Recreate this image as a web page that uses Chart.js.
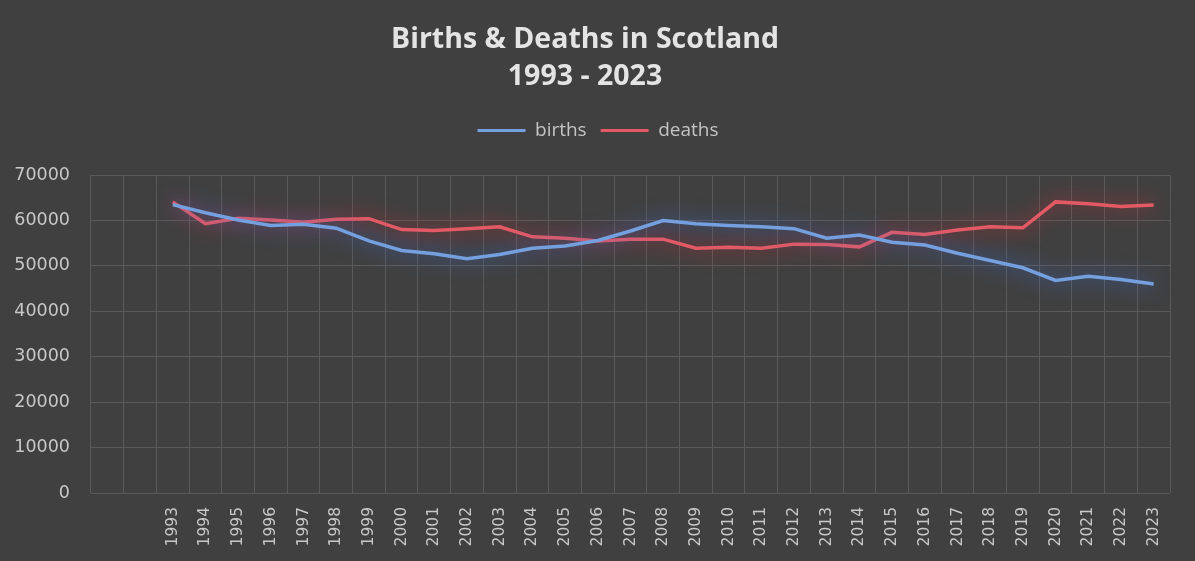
<!DOCTYPE html>
<html>
<head>
<meta charset="utf-8">
<title>Births & Deaths in Scotland</title>
<script src="https://cdn.jsdelivr.net/npm/chart.js@4/dist/chart.umd.min.js"></script>
<style>
  html, body { margin: 0; padding: 0; background: #404040; }
  #wrap { width: 1195px; height: 561px; position: relative; }
</style>
</head>
<body>
<div id="wrap"><canvas id="myChart"></canvas></div>
<script>
// values
const years = ['1993', '1994', '1995', '1996', '1997', '1998', '1999', '2000', '2001', '2002',
  '2003', '2004', '2005', '2006', '2007', '2008', '2009', '2010', '2011', '2012',
  '2013', '2014', '2015', '2016', '2017', '2018', '2019', '2020', '2021', '2022', '2023']

const births = [63500, 61700, 60100, 58900, 59200, 58300, 55500, 53400, 52700, 51600,
  52500, 53900, 54400, 55600, 57700, 60000, 59300, 58900, 58600, 58200,
  56100, 56800, 55200, 54600, 52800, 51200, 49600, 46800, 47700, 47000, 46000]

const deaths = [64100, 59300, 60500, 60100, 59600, 60300, 60400, 58000, 57800, 58200,
  58600, 56400, 56100, 55500, 55900, 55900, 53900, 54100, 53900, 54800,
  54700, 54200, 57400, 56900, 57900, 58600, 58400, 64100, 63700, 63100, 63400]

const yTicks = [0, 10000, 20000, 30000, 40000, 50000, 60000, 70000]

// the original sheet has two blank rows in front of 1993
const labels = ['', ''].concat(years)
const pad = [null, null]

// soft glow under the lines, like the spreadsheet effect
const glow = {
  id: 'glow',
  beforeDatasetDraw(chart, args) {
    const ds = chart.data.datasets[args.index]
    chart.ctx.save()
    chart.ctx.shadowColor = ds.glowColor
    chart.ctx.shadowBlur = 20
  },
  afterDatasetDraw(chart) {
    chart.ctx.restore()
  }
}

// leave some room between the legend and the plot, nudge it a bit right
const legendGap = {
  id: 'legendGap',
  beforeLayout(chart) {
    const lg = chart.legend
    if (lg && !lg._gapPatched) {
      const fit = lg.fit.bind(lg)
      lg.fit = function () { fit(); this.height += 25 }
      const draw = lg.draw.bind(lg)
      lg.draw = function () {
        chart.ctx.save()
        chart.ctx.translate(13, 0)
        draw()
        chart.ctx.restore()
      }
      lg._gapPatched = true
    }
  }
}

const ctx = document.getElementById('myChart')

new Chart(ctx, {
  type: 'line',
  data: {
    labels: labels,
    datasets: [{
      label: 'births',
      data: pad.concat(births),
      borderColor: '#74a0e0',
      backgroundColor: '#74a0e0',
      glowColor: 'rgba(60, 110, 220, 1)',
      borderWidth: 3.5,
      pointRadius: 0,
      tension: 0
    }, {
      label: 'deaths',
      data: pad.concat(deaths),
      borderColor: '#e45a64',
      backgroundColor: '#e45a64',
      glowColor: 'rgba(220, 40, 50, 1)',
      borderWidth: 3.5,
      pointRadius: 0,
      tension: 0
    }]
  },
  options: {
    responsive: true,
    maintainAspectRatio: false,
    animation: false,
    layout: { padding: { left: 0, right: 25, top: 0, bottom: 0 } },
    plugins: {
      tooltip: { enabled: false },
      title: {
        display: true,
        text: ['Births & Deaths in Scotland', '1993 - 2023'],
        color: '#e4e4e4',
        font: { family: 'Open Sans', size: 28.5, weight: 'bold', lineHeight: 1.3 },
        padding: { top: 21, bottom: 12 }
      },
      legend: {
        labels: {
          color: '#c4c4c4',
          font: { family: 'Open Sans', size: 19 },
          boxWidth: 48,
          boxHeight: 3,
          padding: 14,
          generateLabels: chart => Chart.defaults.plugins.legend.labels.generateLabels(chart)
            .map(l => ({ ...l, lineWidth: 0, fillStyle: l.strokeStyle }))
        }
      }
    },
    scales: {
      x: {
        offset: true,
        grid: { color: '#5a5a5a', offset: true, drawTicks: false },
        border: { display: false },
        ticks: {
          color: '#c8c8c8',
          font: { family: 'DejaVu Sans', size: 15.5 },
          minRotation: 90,
          maxRotation: 90,
          autoSkip: false,
          padding: 14
        },
        afterFit: scale => { scale.height = 68 }
      },
      y: {
        min: 0,
        max: 70000,
        grid: { color: '#5a5a5a', drawTicks: false },
        border: { display: false },
        afterBuildTicks: scale => { scale.ticks = yTicks.map(v => ({ value: v })) },
        ticks: {
          color: '#c8c8c8',
          font: { family: 'DejaVu Sans', size: 17.5 },
          padding: 21,
          callback: v => String(v)
        },
        afterFit: scale => { scale.width = 91 }
      }
    }
  },
  plugins: [glow, legendGap]
});
</script>
</body>
</html>
